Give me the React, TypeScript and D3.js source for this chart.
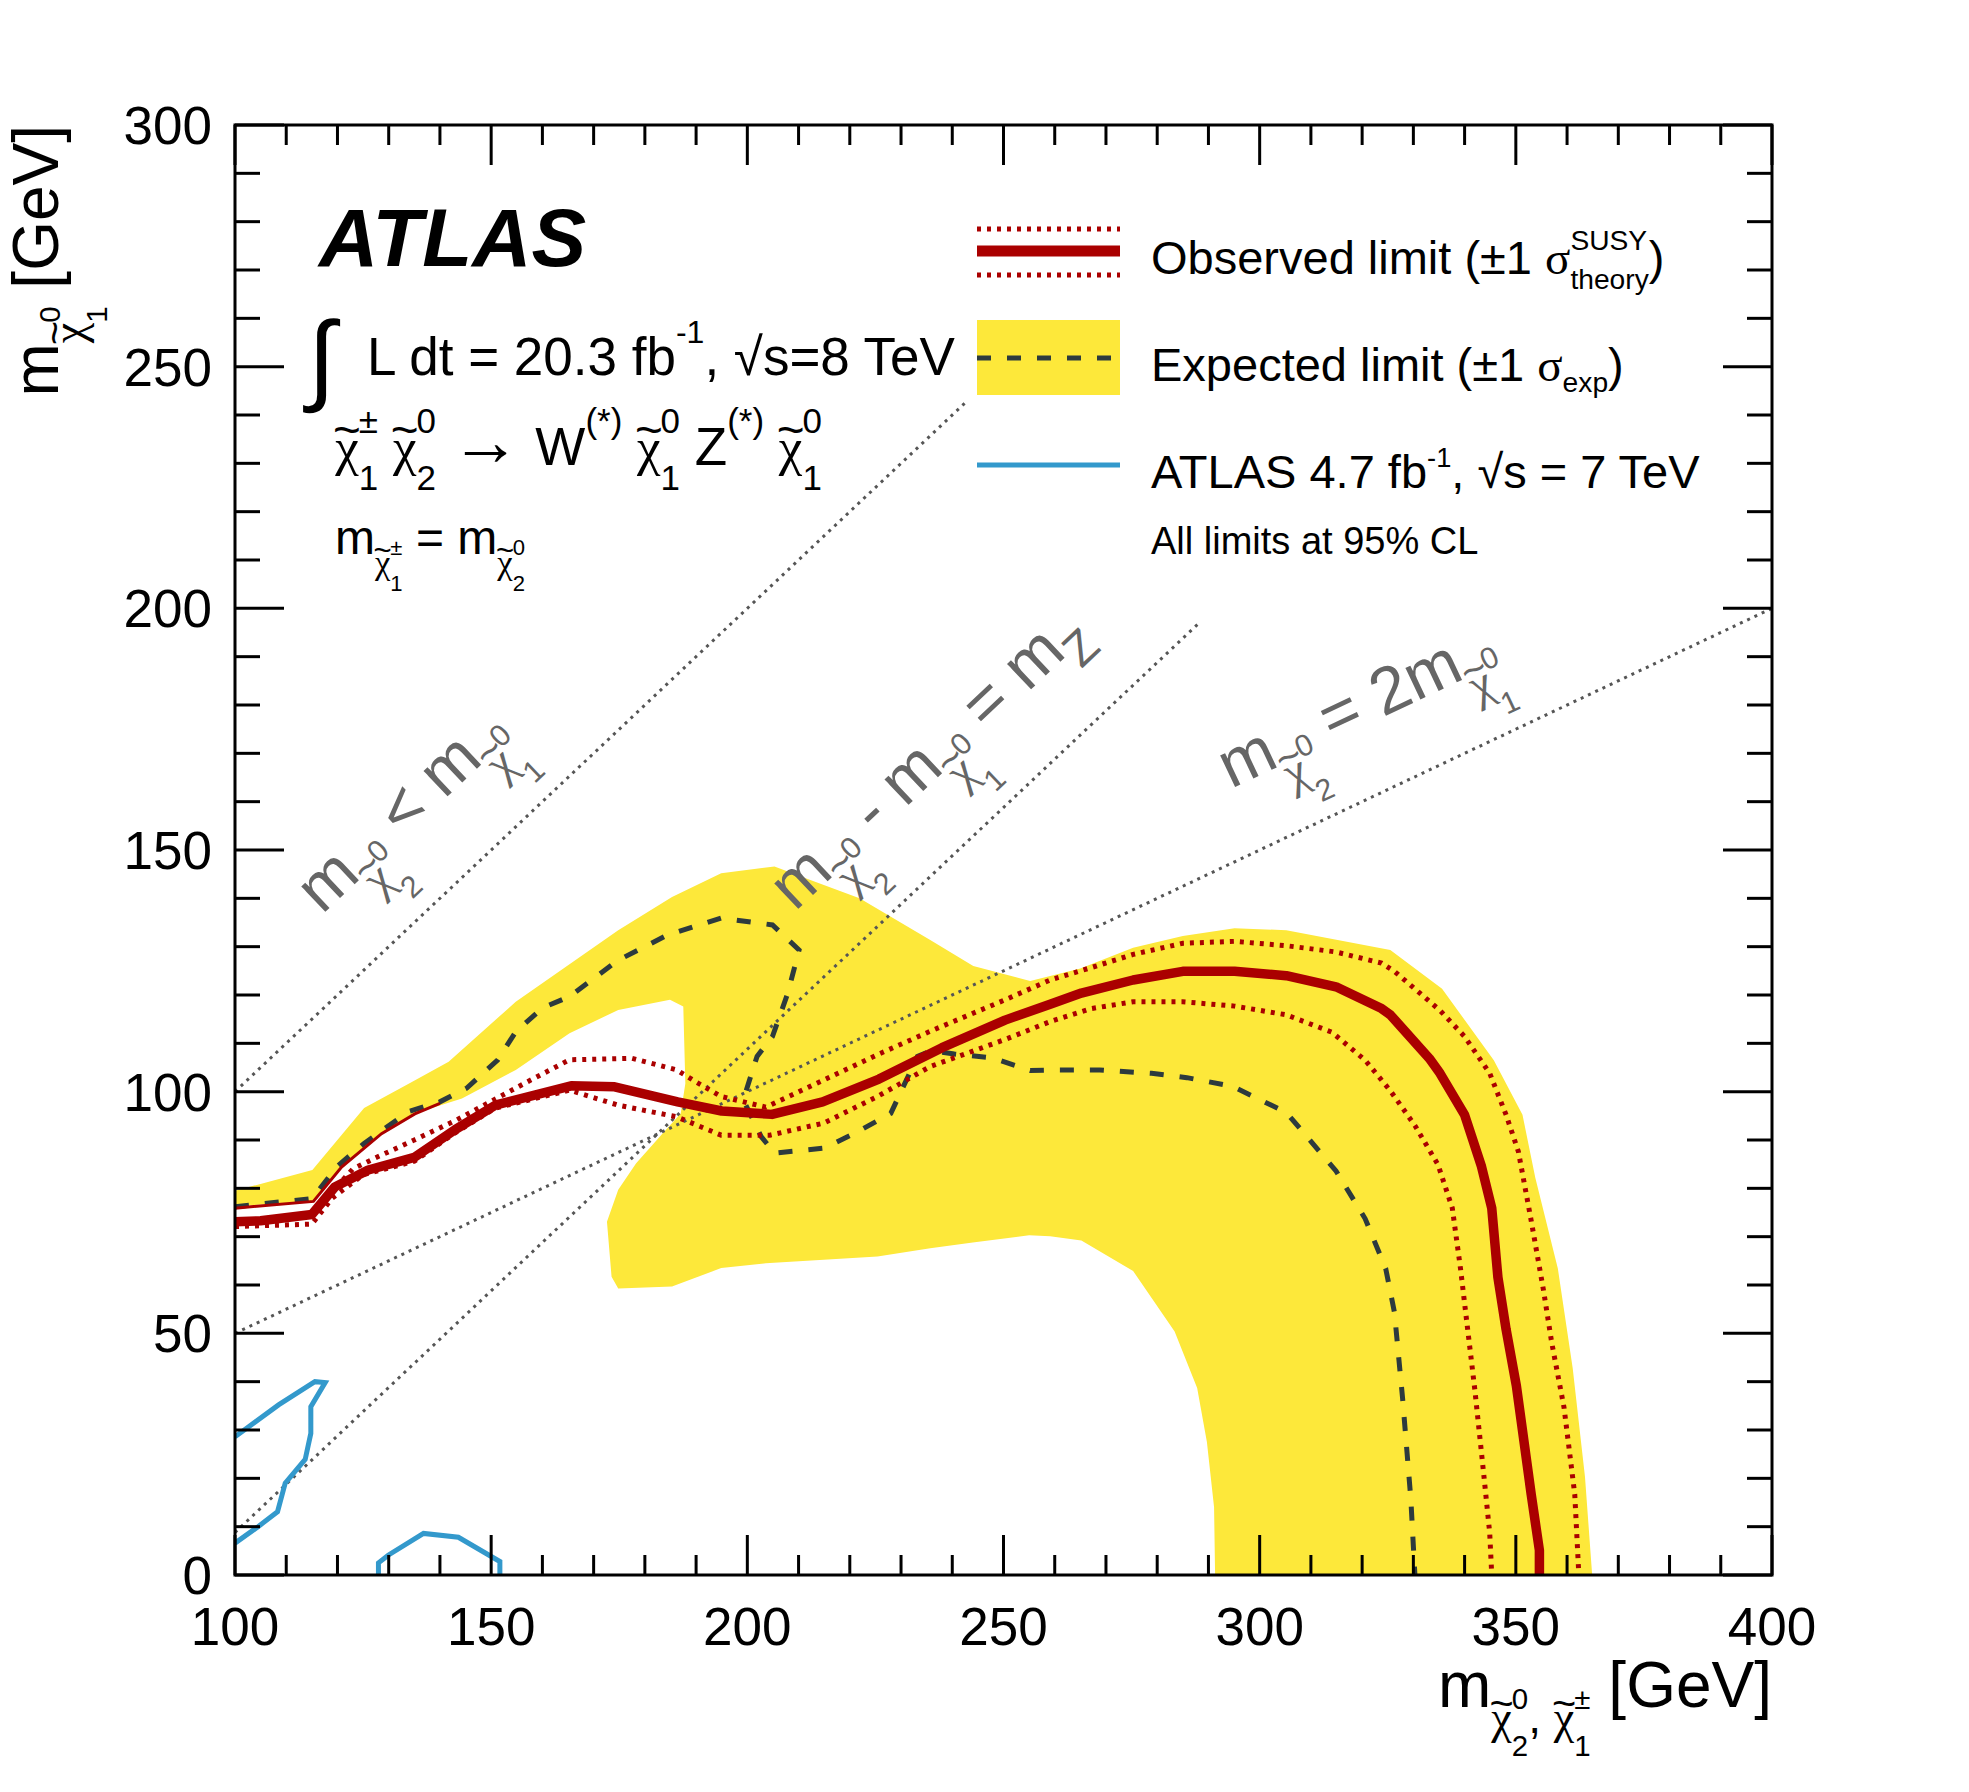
import * as d3 from 'd3'
import React from 'react'

// ---- data ----
const xTicks = [100, 150, 200, 250, 300, 350, 400]
const yTicks = [0, 50, 100, 150, 200, 250, 300]

// observed limit
const observed = [
  [100, 73.1], [105, 73.3], [115, 74.6], [119.5, 80.3], [126, 83.8], [135, 86.4], [142.9, 92.1],
  [150.8, 97.2], [165.6, 101.2], [174.1, 101], [186.4, 97.9], [195, 96], [204.8, 95.3], [214.7, 97.9],
  [225.7, 102.6], [238, 109.1], [250.3, 114.8], [259.1, 118.1], [265.2, 120.4], [275.3, 123.1],
  [285, 124.9], [295.1, 124.9], [305.2, 124], [314.9, 121.7], [323.8, 117.2], [325.5, 115.9],
  [333.1, 106.9], [335.2, 103.8], [340, 95.2], [343.3, 84.5], [345.3, 75.9], [346.5, 61.6],
  [348.1, 50.8], [350.1, 39.2], [353, 16.7], [354.6, 5.1], [354.6, 0],
]
// observed +1 sigma theory
const observedUp = [
  [116, 75.5], [120, 80.5], [123, 84], [127.4, 86.3], [135, 90], [143, 94], [150, 98], [157, 102],
  [165.3, 106.6], [177.5, 106.9], [186.2, 104.5], [190, 102], [194.9, 99], [203.6, 96.8],
  [214.9, 102.4], [225.7, 107.8], [235.7, 112.5], [250.3, 119], [259.1, 123.1], [267.2, 125.7],
  [275.3, 128.4], [285, 130.7], [295.1, 131.1], [305.2, 130.2], [314.9, 128.9], [323.8, 126.6],
  [326.3, 124.9], [335.2, 116.8], [340, 111.4], [344.9, 103.8], [348.1, 95.2], [350.5, 87.6],
  [353, 73.3], [355.4, 58.9], [357, 48.1], [359.4, 34.7], [361.5, 16.7], [362.3, 0],
]
const observedUpLeft = [
  [100, 75.9], [115.3, 77.3], [120.8, 84.4], [128.6, 91.3], [135.1, 95.4], [140, 97.6],
]
// observed -1 sigma theory
const observedDown = [
  [100, 72.1], [115, 72.6], [119, 78], [125, 82.8], [135, 85.6], [143, 91.5], [150.8, 96.6],
  [165.3, 100.3], [174.8, 97.2], [186.2, 94.8], [194.9, 91], [204.4, 91], [214.9, 93.5],
  [225.4, 99], [235.7, 105.2], [250.3, 110.8], [259.1, 114.5], [267.2, 117.2], [275.3, 118.6],
  [285, 118.6], [295.1, 117.7], [305.2, 115.9], [314.1, 112.3], [320.6, 106.5], [325.5, 100.2],
  [330.3, 93], [334.8, 84.9], [337.6, 75.9], [339.2, 63.4], [340.4, 52.6], [342, 38.3],
  [343.7, 21.2], [344.9, 8.7], [345.3, 0],
]
// expected limit
const expected = [
  [100, 76.2], [115.1, 77.9], [119.9, 84.5], [125.2, 89.3], [133.9, 95.9], [140, 97.9],
  [145.2, 100.7], [151.3, 106.6], [154.8, 112.4], [160, 117.3], [165.3, 119.7], [174.8, 127.2],
  [184.4, 132.4], [194.9, 135.9], [204.9, 134.5], [210.1, 129.3], [207.9, 120.4], [204.9, 111.4],
  [201.9, 107.3], [199.2, 98.3], [202.7, 90.7], [205.3, 87.3], [214.9, 88.3], [221, 91.4],
  [228, 95.5], [233.2, 107.3], [236, 108.5], [240.4, 107.8], [247.8, 107], [255.2, 104.4],
  [260.7, 104.5], [268.8, 104.5], [278.9, 103.8], [285.8, 102.9], [294.7, 101.1], [305.2, 95.7],
  [314.9, 83.6], [320.6, 73.7], [324.6, 63.4], [326.3, 54.4], [327.9, 36.5], [329.5, 15.8], [330.3, 0],
]
// +-1 sigma exp band: outer edge, then inner edge back
const bandUpper = [
  [100, 79.5], [115.1, 83.8], [125.2, 96.6], [134.7, 102.1], [141.7, 106.2], [154.8, 118.6],
  [174.8, 133.4], [185.3, 140.3], [194.9, 145.2], [205.3, 146.6], [212.3, 143.8], [221.9, 140],
  [235.7, 131.4], [244.1, 126], [255.2, 122.9], [265, 125.5], [275.3, 129.8], [285, 132.2],
  [295.1, 133.8], [305.2, 133.4], [325.5, 129.3], [335.6, 121.3], [345.7, 106.5], [351.3, 95.2],
  [353.8, 82.2], [358.2, 63.4], [361.1, 42.8], [363.5, 20.3], [364.9, 0],
]
const bandLower = [
  [291.3, 0], [291.1, 14], [289.7, 27.5], [287.8, 38.7], [283.4, 50.4], [275.3, 62.9],
  [265.2, 69.2], [259.1, 70.1], [255, 70.3], [244, 68.8], [235.7, 67.6], [225.4, 65.9],
  [203.6, 64.5], [194.9, 63.5], [185.3, 59.7], [174.8, 59.3], [173.5, 61.7], [172.6, 73.1],
  [174.8, 79.7], [178.3, 85.2], [183.5, 91.4], [187, 95.5], [187.9, 101.7], [187.5, 117.6],
  [184.9, 119], [174.8, 116.9], [165.3, 112.1], [154.8, 104.5], [144.3, 98.6], [135, 95.5],
  [128.6, 91.5], [120.8, 84.6], [115.3, 77.3], [100, 76.3],
]
// ATLAS 4.7 fb-1 7 TeV contours
const atlas7a = [
  [100, 28.6], [108.5, 35.2], [115.6, 40], [117.6, 39.8], [114.8, 34.8], [114.8, 29.3],
  [113.7, 23.9], [109.8, 19], [108.3, 13.1], [104.5, 10], [100, 6.6],
]
const atlas7b = [
  [128, 0], [128, 2.5], [129.9, 4.1], [136.8, 8.6], [143.6, 7.8], [151.7, 2.8], [151.7, 0],
]
// kinematic boundaries
const diagEqual = [[100, 100], [242.5, 242.5]]
const diagZ = [[100, 8.8], [288.3, 197.1]]
const diagHalf = [[100, 50], [400, 200]]

// ---- layout ----
const W = 1969
const H = 1792
const SANS = '"Liberation Sans", Arial, Helvetica, sans-serif'
const SERIF = '"Liberation Serif", "Times New Roman", serif'
const RED = '#aa0000'
const YELLOW = '#fde83a'
const DASH = '#2d3a3e'
const BLUE = '#3399cc'
const GREY = '#666666'

const x = d3.scaleLinear().domain([100, 400]).range([235, 1772])
const y = d3.scaleLinear().domain([0, 300]).range([1575, 125])
const line = d3.line<number[]>().x(d => x(d[0])).y(d => y(d[1]))

// text helpers
let ctx: CanvasRenderingContext2D | null = null
function textW(t: string, fs: number, family = '"Liberation Sans"') {
  if (!ctx) ctx = document.createElement('canvas').getContext('2d')
  if (!ctx) return fs * 0.55 * t.length
  ctx.font = `${fs}px ${family}`
  return ctx.measureText(t).width
}

type Piece = { t: string; fs: number; shift: number; dx?: number; family?: string }

const P = (t: string, fs: number, shift = 0): Piece => ({ t, fs, shift })

// chi with a tilde drawn over it
function chi(fs: number, shift: number): Piece[] {
  const wc = textW('χ', fs, '"Liberation Serif"')
  const tfs = fs * 0.9
  const wt = textW('~', tfs)
  return [
    { t: 'χ', fs, shift, family: SERIF },
    { t: '~', fs: tfs, shift: shift + fs * 0.36, dx: -(wc + wt) / 2 },
    { t: '', fs, shift, dx: (wc - wt) / 2 },
  ]
}

function supsub(sup: string, sub: string, fs: number, supShift: number, subShift: number): Piece[] {
  const w1 = textW(sup, fs)
  const w2 = textW(sub, fs)
  const out: Piece[] = [P(sup, fs, supShift), { t: sub, fs, shift: subShift, dx: -w1 }]
  if (w1 > w2) out.push({ t: '', fs, shift: subShift, dx: w1 - w2 })
  return out
}

// m with chi subscript
function mSub(F: number, sup: string, sub: string): Piece[] {
  return [
    P('m', F, 0),
    ...chi(F * 0.72, -F * 0.41),
    ...supsub(sup, sub, F * 0.46, -F * 0.03, -F * 0.77),
  ]
}

function chiMain(F: number, sup: string, sub: string): Piece[] {
  return [...chi(F, 0), ...supsub(sup, sub, F * 0.66, F * 0.6, -F * 0.47)]
}

function spans(pieces: Piece[]) {
  let prev = 0
  let carry = 0
  const out: React.ReactNode[] = []
  pieces.forEach((p, i) => {
    if (p.t === '') {
      carry += p.dx || 0
      return
    }
    const dy = -(p.shift - prev)
    prev = p.shift
    const dx = (p.dx || 0) + carry
    carry = 0
    out.push(
      <tspan key={i} fontSize={p.fs} dy={dy} dx={dx || undefined} fontFamily={p.family}>
        {p.t}
      </tspan>
    )
  })
  return out
}

const App = () => {
  const minorX = d3.range(100, 401, 10)
  const minorY = d3.range(0, 301, 10)

  const F1 = 66
  const labelEqual = [...mSub(F1, '0', '2'), P(' < ', F1), ...mSub(F1, '0', '1')]
  const labelZ = [
    ...mSub(F1, '0', '2'), P(' - ', F1), ...mSub(F1, '0', '1'), P(' = ', F1),
    P('m', F1), P('Z', F1 * 0.72, -F1 * 0.3),
  ]
  const labelHalf = [...mSub(F1, '0', '2'), P(' = 2', F1), ...mSub(F1, '0', '1')]
  const angSteep = (Math.atan2(y(0) - y(1), x(1) - x(0)) * 180) / Math.PI
  const angHalf = (Math.atan2(y(0) - y(0.5), x(1) - x(0)) * 180) / Math.PI

  const LF = 47
  const LX = 977
  const LX2 = 1120
  const TF = 64

  return (
    <svg
      width={W}
      height={H}
      style={{ position: 'absolute', left: 0, top: 0, background: '#fff' }}
      fontFamily={SANS}
    >
      <defs>
        <clipPath id="plot">
          <rect x={235} y={125} width={1772 - 235} height={1575 - 125} />
        </clipPath>
      </defs>
      <rect width={W} height={H} fill="#fff" />

      <g clipPath="url(#plot)">
        <path d={line([...bandUpper, ...bandLower]) + 'Z'} fill={YELLOW} stroke="none" />
        {[diagEqual, diagZ, diagHalf].map((d, i) => (
          <path key={i} d={line(d) || ''} fill="none" stroke="#555" strokeWidth={3} strokeDasharray="3 5" />
        ))}
        <path d={line(expected) || ''} fill="none" stroke={DASH} strokeWidth={5} strokeDasharray="14 16" />
        <path d={line(observedUpLeft) || ''} fill="none" stroke={RED} strokeWidth={3} />
        <path d={line(observedUp) || ''} fill="none" stroke={RED} strokeWidth={5} strokeDasharray="4 6" />
        <path d={line(observedDown) || ''} fill="none" stroke={RED} strokeWidth={5} strokeDasharray="4 6" />
        <path d={line(observed) || ''} fill="none" stroke={RED} strokeWidth={9.5} strokeLinejoin="round" />
        <path d={line(atlas7a) || ''} fill="none" stroke={BLUE} strokeWidth={5} />
        <path d={line(atlas7b) || ''} fill="none" stroke={BLUE} strokeWidth={5} />
      </g>

      {/* frame and ticks */}
      <rect x={235} y={125} width={1772 - 235} height={1575 - 125} fill="none" stroke="#000" strokeWidth={3} />
      {minorX.map(v => {
        const L = v % 50 === 0 ? 40 : 20
        return (
          <g key={'x' + v} stroke="#000" strokeWidth={3}>
            <line x1={x(v)} x2={x(v)} y1={1575} y2={1575 - L} />
            <line x1={x(v)} x2={x(v)} y1={125} y2={125 + L} />
          </g>
        )
      })}
      {minorY.map(v => {
        const L = v % 50 === 0 ? 49 : 25
        return (
          <g key={'y' + v} stroke="#000" strokeWidth={3}>
            <line x1={235} x2={235 + L} y1={y(v)} y2={y(v)} />
            <line x1={1772} x2={1772 - L} y1={y(v)} y2={y(v)} />
          </g>
        )
      })}
      {xTicks.map(v => (
        <text key={'xl' + v} x={x(v)} y={1645} fontSize={53} textAnchor="middle">
          {v}
        </text>
      ))}
      {yTicks.map(v => (
        <text key={'yl' + v} x={212} y={y(v) + 19} fontSize={53} textAnchor="end">
          {v}
        </text>
      ))}

      {/* axis titles */}
      <text x={1772} y={1707} textAnchor="end" style={{ whiteSpace: 'pre' }}>
        {spans([
          ...mSub(TF, '0', '2'),
          P(',', TF * 0.72, -TF * 0.41),
          P(' ', TF * 0.72, -TF * 0.41),
          ...chi(TF * 0.72, -TF * 0.41),
          ...supsub('±', '1', TF * 0.46, -TF * 0.03, -TF * 0.77),
          P(' [GeV]', TF, 0),
        ])}
      </text>
      <text transform="translate(58,125) rotate(-90)" textAnchor="end" style={{ whiteSpace: 'pre' }}>
        {spans([...mSub(TF, '0', '1'), P(' [GeV]', TF, 0)])}
      </text>

      {/* kinematic labels */}
      <g fill={GREY} style={{ whiteSpace: 'pre' }}>
        <text transform={`translate(322,915) rotate(${-angSteep})`}>{spans(labelEqual)}</text>
        <text transform={`translate(795,912) rotate(${-angSteep})`}>{spans(labelZ)}</text>
        <text transform={`translate(1231,789) rotate(${-angHalf})`}>{spans(labelHalf)}</text>
      </g>

      {/* ATLAS label block */}
      <text x={319} y={266} fontSize={82} fontWeight="bold" fontStyle="italic">
        ATLAS
      </text>
      <text x={308} y={392} fontSize={100}>
        ∫
      </text>
      <text x={367} y={375} style={{ whiteSpace: 'pre' }}>
        {spans([P('L dt = 20.3 fb', 53), P('-1', 32, 32), P(', √s=8 TeV', 53, 0)])}
      </text>
      <text x={333} y={465} style={{ whiteSpace: 'pre' }}>
        {spans([
          ...chiMain(53, '±', '1'), P(' ', 53), ...chiMain(53, '0', '2'), P(' ', 53),
          P('→', 70, 0), P(' W', 53), P('(*)', 35, 32), P(' ', 53), ...chiMain(53, '0', '1'),
          P(' Z', 53), P('(*)', 35, 32), P(' ', 53), ...chiMain(53, '0', '1'),
        ])}
      </text>
      <text x={335} y={554} style={{ whiteSpace: 'pre' }}>
        {spans([...mSub(48, '±', '1'), P(' = ', 48), ...mSub(48, '0', '2')])}
      </text>

      {/* legend */}
      <line x1={LX} x2={LX2} y1={229} y2={229} stroke={RED} strokeWidth={5} strokeDasharray="4 6" />
      <line x1={LX} x2={LX2} y1={251} y2={251} stroke={RED} strokeWidth={11} />
      <line x1={LX} x2={LX2} y1={275} y2={275} stroke={RED} strokeWidth={5} strokeDasharray="4 6" />
      <rect x={LX} y={320} width={LX2 - LX} height={75} fill={YELLOW} />
      <line x1={LX} x2={LX2} y1={358} y2={358} stroke={DASH} strokeWidth={5} strokeDasharray="14 16" />
      <line x1={LX} x2={LX2} y1={465} y2={465} stroke={BLUE} strokeWidth={5} />

      <text x={1151} y={274} style={{ whiteSpace: 'pre' }}>
        {spans([
          P('Observed limit (±1 ', LF),
          { t: 'σ', fs: LF, shift: 0, family: SERIF },
          ...supsub('SUSY', 'theory', LF * 0.6, LF * 0.52, -LF * 0.32),
          P(')', LF, 0),
        ])}
      </text>
      <text x={1151} y={381} style={{ whiteSpace: 'pre' }}>
        {spans([
          P('Expected limit (±1 ', LF),
          { t: 'σ', fs: LF, shift: 0, family: SERIF },
          P('exp', LF * 0.6, -LF * 0.23),
          P(')', LF, 0),
        ])}
      </text>
      <text x={1151} y={488} style={{ whiteSpace: 'pre' }}>
        {spans([P('ATLAS 4.7 fb', LF), P('-1', LF * 0.58, LF * 0.44), P(', √s = 7 TeV', LF, 0)])}
      </text>
      <text x={1151} y={554} fontSize={38}>
        All limits at 95% CL
      </text>
    </svg>
  )
}

export default App
